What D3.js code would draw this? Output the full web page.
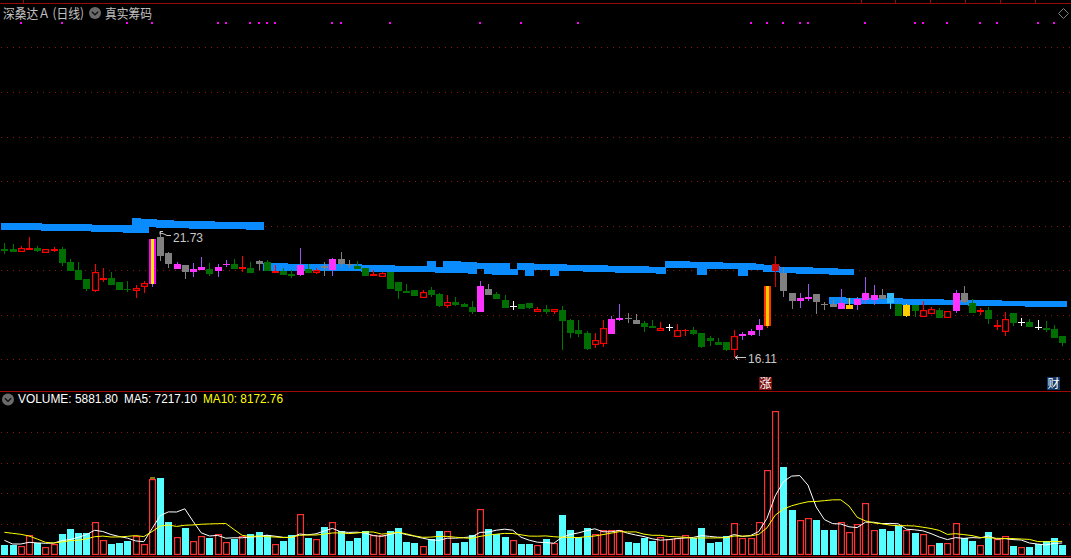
<!DOCTYPE html>
<html><head><meta charset="utf-8">
<style>
html,body{margin:0;padding:0;background:#000;overflow:hidden}
svg{display:block}
text{font-family:"Liberation Sans","DejaVu Sans",sans-serif}
</style>
<script src="https://cdn.jsdelivr.net/npm/d3@7/dist/d3.min.js"></script>
</head><body><svg id="c" width="1071" height="558"></svg>
<script>
// ---- data ----
const titleText = "深桑达Ａ (日线)";
const chipText = "真实筹码";
const highLabel = 21.73, lowLabel = 16.11;
const opens = [
20.97,20.97,20.84,20.93,21.02,20.79,20.88,20.97,20.39,20.03,
19.62,19.08,19.58,19.67,19.49,19.17,19.08,19.26,19.40,21.51,
20.79,20.30,20.25,20.07,20.16,20.07,20.16,20.30,20.30,20.07,
20.12,20.43,20.39,19.89,19.98,19.85,20.25,20.07,19.89,20.21,
20.52,20.52,20.30,20.21,20.12,19.76,19.71,19.94,19.49,19.08,
19.13,18.77,19.13,18.95,18.41,18.59,18.50,18.36,19.31,19.17,
18.95,18.68,18.41,18.50,18.54,18.14,18.27,18.14,18.23,17.78,
17.33,17.19,16.65,16.70,17.82,17.87,17.87,17.78,17.64,17.51,
17.28,17.46,17.01,17.28,17.33,17.19,16.97,16.79,16.79,16.43,
17.15,17.28,17.55,17.51,19.98,19.89,18.99,18.77,18.81,18.95,
18.50,18.50,18.54,18.45,18.72,18.99,18.90,18.90,18.99,18.50,
18.45,18.45,17.91,18.05,18.23,17.87,18.99,18.99,18.54,18.14,
18.23,17.46,17.24,18.09,17.69,17.69,17.46,17.42,17.37,17.06];
const closes = [
20.88,20.84,21.02,21.02,20.88,20.97,20.97,20.34,19.98,19.58,
19.17,19.94,19.67,19.35,19.13,19.13,19.22,19.44,21.42,20.66,
20.30,20.07,19.94,19.94,20.03,19.85,19.98,20.25,20.07,20.16,
19.89,20.30,19.98,19.98,19.80,19.76,19.80,19.89,20.03,20.12,
20.03,20.30,20.25,20.07,19.76,19.85,19.89,19.17,19.08,18.99,
18.86,19.04,18.90,18.41,18.59,18.45,18.36,18.14,18.14,18.90,
18.72,18.32,18.36,18.27,18.32,18.27,18.14,18.27,17.73,17.19,
17.15,16.47,16.88,17.42,17.15,17.78,17.82,17.60,17.46,17.42,
17.42,17.42,17.33,17.33,17.15,16.56,16.83,16.65,16.43,17.06,
17.06,17.10,17.33,19.31,20.30,19.08,18.63,18.63,18.72,18.59,
18.47,18.36,18.27,18.27,18.45,18.68,18.68,18.72,18.54,17.96,
17.96,18.18,18.23,18.27,17.87,18.18,18.18,18.59,18.09,18.23,
17.82,17.55,17.82,17.64,17.67,17.46,17.44,17.33,16.97,16.74];
const highs = [
21.24,21.20,21.11,21.51,21.11,20.97,21.06,21.06,20.52,20.39,
19.62,20.30,20.12,19.94,19.49,19.53,19.35,19.53,21.42,21.73,
20.84,20.39,20.25,20.34,20.61,20.34,20.30,20.48,20.52,20.66,
20.39,20.48,20.48,20.25,20.12,20.03,21.02,20.30,20.12,20.39,
20.57,20.84,20.48,20.43,20.12,20.03,19.94,19.94,19.49,19.40,
19.13,19.13,19.26,18.99,18.90,18.81,18.54,18.63,19.53,19.40,
19.04,18.90,18.63,18.50,18.54,18.36,18.45,18.27,18.41,17.82,
17.78,17.28,17.19,17.78,17.96,18.50,18.09,18.05,17.73,17.78,
17.69,17.60,17.60,17.37,17.46,17.19,17.06,16.97,16.79,17.33,
17.24,17.37,17.82,19.31,20.66,20.16,18.99,18.99,19.40,18.95,
18.59,18.68,19.17,18.77,18.81,19.71,19.35,19.17,18.99,18.50,
18.50,18.45,18.63,18.36,18.32,18.18,19.13,19.31,18.72,18.32,
18.36,17.78,18.14,18.09,17.87,17.82,17.78,17.73,17.55,17.06];
const lows = [
20.75,20.84,20.84,20.93,20.84,20.79,20.84,20.21,19.98,19.58,
19.08,19.04,19.49,19.35,19.13,19.04,18.77,18.99,19.26,20.43,
20.12,20.07,19.62,19.71,20.03,19.76,19.71,20.16,20.07,19.94,
19.89,20.03,19.98,19.89,19.80,19.67,19.76,19.89,19.85,19.76,
19.76,20.16,20.12,20.07,19.76,19.76,19.71,19.17,18.72,18.99,
18.86,18.77,18.81,18.36,18.32,18.41,18.36,18.05,18.14,18.90,
18.72,18.32,18.23,18.27,18.27,18.14,18.05,18.05,16.43,16.97,
17.01,16.43,16.52,16.56,17.15,17.73,17.64,17.60,17.24,17.42,
17.28,17.28,17.01,17.06,17.10,16.52,16.61,16.65,16.38,16.11,
16.88,17.06,17.06,17.42,19.26,18.81,18.27,18.32,18.63,18.05,
18.23,18.36,18.27,18.27,18.23,18.50,18.45,18.72,18.27,17.96,
17.91,17.91,17.91,18.05,17.87,17.87,18.09,18.54,18.09,18.00,
17.60,17.33,17.06,17.51,17.51,17.46,17.33,17.24,16.97,16.61];
const kinds = [
"g","g","r","R","g","r","R","g","g","g",
"g","r","R","g","g","g","r","r","my","k",
"k","m","k","m","m","g","m","m","g","R",
"g","k","g","R","g","g","m","g","r","k",
"m","k","k","g","g","R","r","g","g","g",
"g","r","g","g","r","g","g","g","m","k",
"g","g","w","g","g","r","g","r","g","g",
"g","g","r","r","m","m","k","k","g","g",
"r","w","r","R","g","g","g","g","g","r",
"m","m","m","ry","D","k","k","m","m","k",
"k","k","m","y","m","m","m","k","b","g",
"y","g","r","r","g","r","m","k","g","R",
"g","R","r","g","w","g","w","g","g","g"];
const bandATop = [
22.14,22.14,22.14,22.14,22.14,22.10,22.10,22.10,22.10,22.10,
22.10,22.05,22.05,22.05,22.05,22.05,22.37,22.32,22.32,22.28,
22.28,22.23,22.23,22.23,22.23,22.23,22.19,22.19,22.19,22.19,
22.19,22.19];
const bandABottom = [
21.83,21.83,21.83,21.83,21.83,21.78,21.78,21.78,21.78,21.78,
21.78,21.74,21.74,21.74,21.74,21.69,21.69,21.69,21.96,21.92,
21.92,21.92,21.92,21.87,21.87,21.87,21.87,21.87,21.87,21.87,
21.83,21.83];
const bandBTop = [
20.34,20.34,20.34,20.30,20.30,20.30,20.30,20.30,20.30,20.30,
20.30,20.30,20.25,20.25,20.25,20.25,20.21,20.21,20.21,20.21,
20.43,20.16,20.43,20.43,20.39,20.39,20.34,20.34,20.34,20.34,
20.07,20.34,20.34,20.30,20.30,20.30,20.30,20.25,20.25,20.25,
20.25,20.25,20.21,20.21,20.21,20.21,20.21,20.16,20.16,20.43,
20.43,20.43,20.39,20.39,20.39,20.39,20.34,20.34,20.34,20.34,
20.30,20.25,20.21,20.16,20.16,20.16,20.16,20.12,20.12,20.12,
20.07,20.07];
const bandBBottom = [
19.98,19.98,19.98,19.98,19.98,19.98,19.98,19.98,19.98,19.98,
19.98,19.98,19.94,19.94,19.94,19.94,19.94,19.94,19.94,19.94,
19.94,19.89,19.89,19.89,19.89,19.85,20.07,19.85,19.80,19.80,
19.80,20.03,19.76,20.03,20.03,19.76,19.98,19.98,19.98,19.94,
19.94,19.94,19.94,19.89,19.89,19.89,19.89,19.89,19.85,20.12,
20.12,20.12,20.12,19.80,20.07,20.07,20.07,20.07,19.76,20.03,
20.03,19.94,19.94,19.89,19.89,19.85,19.85,19.85,19.85,19.80,
19.80,19.80];
const bandCTop = [
18.81,18.81,18.77,18.77,18.77,18.77,18.77,18.77,18.77,18.72,
18.72,18.72,18.72,18.72,18.68,18.68,18.68,18.68,18.68,18.68,
18.68,18.63,18.63,18.63,18.63,18.63,18.63,18.63,18.63];
const bandCBottom = [
18.50,18.50,18.50,18.50,18.50,18.50,18.50,18.50,18.50,18.45,
18.45,18.45,18.45,18.45,18.45,18.45,18.45,18.41,18.41,18.41,
18.41,18.41,18.41,18.41,18.36,18.36,18.36,18.36,18.36];
const signalBars = [2,7,15,18,26,27,30,31,32,33,40,41,47,58,63,70,91,93,95,97,98,105,111,112,115,119,121,126,128];
const volumes = [
6000,6000,5400,11820,7020,4800,6600,12600,15600,13200,
13200,19620,9000,6600,7200,8400,11220,6600,45600,46200,
19800,10800,16200,8400,11400,10200,12600,7800,9600,11400,
12600,13800,12000,6600,8220,11820,24420,10020,9420,16620,
19620,14220,8220,10020,14220,11820,11820,14220,16020,7620,
7020,5580,9420,14220,14220,7020,7620,11820,27420,15420,
12420,10620,8820,6420,6420,6000,9600,7020,24000,15000,
10800,16200,12600,15000,15000,15000,7800,7200,10200,8400,
10800,9600,10200,12000,10200,16200,7200,7800,11400,19020,
10200,10200,19620,51000,86400,52800,27000,21000,22200,21000,
15000,15000,19800,13800,18600,31200,15000,15600,14400,17400,
15000,13200,12600,6000,7200,7200,19200,10200,8400,6000,
13800,9600,11400,5400,4800,4800,6600,8400,10200,5881.8];
const volumeUpBars = [2,3,5,6,11,12,16,17,18,21,23,24,26,27,29,33,36,38,40,45,46,51,54,58,62,65,67,72,73,74,75,80,81,82,83,89,90,91,92,93,94,97,98,102,103,104,105,106,110,112,113,115,116,119,121,122,124];
const ma5 = [
8820,6600,6600,7620,7260,7020,7140,8580,9300,10560,
12240,14820,14100,12300,11100,10140,8460,7980,15780,23580,
25860,25800,27720,20280,13320,11400,11760,10080,10320,10320,
10800,11040,11880,11280,10620,10500,12600,12120,12720,14400,
15960,13920,13560,13680,13200,11640,11160,12360,13560,12240,
11280,10080,9120,8760,10080,10080,10440,10920,13560,13800,
14880,15480,14880,10680,8880,7680,7440,7080,10620,12300,
13260,14580,15720,13920,13920,14760,13080,12000,11040,9720,
8880,9240,9840,10200,10560,11640,11160,10680,10560,12300,
11100,11700,14100,22020,35460,43980,47340,47640,41880,28800,
21240,18840,18600,16920,16440,19680,19680,18840,18960,18720,
15480,15120,14520,12840,10800,9240,10440,9960,10440,10200,
11520,9600,9840,9240,9000,7200,6600,6000,6960,7217.1];
const ma10 = [
13620,13020,12420,11400,9600,7620,7200,7800,8580,8910,
9630,10980,11340,10800,10830,11190,11640,11040,14040,17340,
18000,17130,17850,18030,18450,18630,18780,18900,15300,11820,
11100,11400,10980,10800,10470,10650,11820,12000,12000,12510,
13230,13260,12840,13200,13800,13800,12540,12960,13620,12720,
11460,10620,10740,11160,11160,10680,10260,10020,11160,11940,
12480,12960,12900,12120,11340,11280,11460,10980,10650,10590,
10470,11010,11400,12270,13110,14010,13830,13860,12480,11820,
11820,11160,10920,10620,10140,10260,10200,10260,10380,11400,
11370,11430,12390,16290,23880,27540,29520,30870,31950,32130,
32610,33090,33120,29400,22620,20460,19260,18720,17940,17580,
17580,17400,16680,15900,14760,12360,12780,12240,11640,10500,
10380,10020,9900,9840,9600,9360,8100,7920,8100,8172.76];
const volumeLabel = "5881.80", ma5Label = "7217.10", ma10Label = "8172.76";

// ---- layout ----
const W = 1071, H = 558;
const svg = d3.select("#c");
svg.append("rect").attr("width",W).attr("height",H).attr("fill","#000");
const x = d3.scaleLinear().domain([0,opens.length-1]).range([4.4,1062.2]);
const px = i => Math.round(x(i));
const yP = d3.scaleLinear().domain([lowLabel,highLabel]).range([357,232]);
const yV = d3.scaleLinear().domain([0,86400]).range([555,411]);
const gridP = [47,92,137,181,226,270,315,359];
const gridV = [432.5,463.5,493.5,524.5];
const topTickX = [23,861,895,930,965,1000,1035];
const crisp = s => s.attr("shape-rendering","crispEdges");

// grids
const g0 = crisp(svg.append("g"));
g0.selectAll("line.g").data(gridP.concat(gridV)).join("line")
  .attr("x1",1).attr("x2",W).attr("y1",d=>Math.floor(d)+0.5).attr("y2",d=>Math.floor(d)+0.5)
  .attr("stroke","#8a1515").attr("stroke-width",1).attr("stroke-dasharray","1 5");
// frame lines
[[3.5,"#960a0a"],[391.5,"#a00808"],[556.5,"#a00808"]].forEach(([y,c])=>{
  g0.append("line").attr("x1",0).attr("x2",W).attr("y1",y).attr("y2",y).attr("stroke",c);
});
g0.selectAll("line.t").data(topTickX).join("line").attr("class","t")
  .attr("x1",d=>d+0.5).attr("x2",d=>d+0.5).attr("y1",0).attr("y2",3).attr("stroke","#960a0a");

// signal dots
crisp(svg.append("g")).selectAll("rect").data(signalBars).join("rect")
  .attr("x",d=>px(d)-1).attr("y",22).attr("width",2).attr("height",2).attr("fill","#ff00ff");

// blue chip bands
function band(start,tops,bottoms){
  crisp(svg.append("g")).selectAll("rect").data(tops).join("rect")
   .attr("x",(d,k)=>Math.max(1,Math.round(x(start+k)-4.1)))
   .attr("width",(d,k)=>Math.round(x(start+k)+4.1)-Math.max(1,Math.round(x(start+k)-4.1))+1)
   .attr("y",d=>Math.round(yP(d)))
   .attr("height",(d,k)=>Math.round(yP(bottoms[k]))-Math.round(yP(d)))
   .attr("fill","#0a8cff");
}
band(0,bandATop,bandABottom);
band(32,bandBTop,bandBBottom);
band(101,bandCTop,bandCBottom);

// candles
const pal = {
 g:{b:"#006e00",w:"#007800"}, r:{b:"#000",w:"#ff0000",s:"#ff0000"}, R:{b:"#ff0000",w:"#ff0000"},
 D:{b:"#d00a0a",w:"#e00000"}, m:{b:"#ff33ff",w:"#9955ee"}, k:{b:"#808080",w:"#808080"},
 w:{b:"#ffffff",w:"#ffffff"}, y:{b:"#ffcc00",w:"#ffcc00"}, b:{b:"#33bbff",w:"#33ccff"},
 my:{b:"#ff00ff",w:"#9955ee",c:"#ffee00"}, ry:{b:"#ff3300",w:"#ff2200",c:"#ffcc00"}
};
const gc = crisp(svg.append("g"));
const idx = d3.range(opens.length);
gc.selectAll("line").data(idx).join("line")
  .attr("x1",i=>px(i)+0.5).attr("x2",i=>px(i)+0.5)
  .attr("y1",i=>Math.round(yP(highs[i]))).attr("y2",i=>Math.round(yP(lows[i])))
  .attr("stroke",i=>pal[kinds[i]].w);
const bodyTop = i=>Math.round(yP(Math.max(opens[i],closes[i])));
const bodyH = i=>Math.max(1,Math.round(yP(Math.min(opens[i],closes[i])))-bodyTop(i));
const solid = idx.filter(i=>kinds[i]!=="r"), hollow = idx.filter(i=>kinds[i]==="r");
gc.selectAll("rect.b").data(solid).join("rect").attr("class","b")
  .attr("x",i=>px(i)-3).attr("y",bodyTop).attr("width",7).attr("height",bodyH)
  .attr("fill",i=>pal[kinds[i]].b);
svg.append("g").selectAll("rect").data(hollow).join("rect")
  .attr("x",i=>px(i)-2.4).attr("y",i=>bodyTop(i)+0.6).attr("width",5.8).attr("height",i=>Math.max(1,bodyH(i)-1.2))
  .attr("fill","#000").attr("stroke","#ff0000").attr("stroke-width",1.2);
gc.selectAll("rect.c").data(idx.filter(i=>pal[kinds[i]].c)).join("rect").attr("class","c")
  .attr("x",i=>px(i)-1).attr("y",bodyTop).attr("width",3).attr("height",bodyH)
  .attr("fill",i=>pal[kinds[i]].c);

// volume bars
const upSet = new Set(volumeUpBars);
const gv = svg.append("g");
crisp(gv.append("g")).selectAll("rect").data(idx.filter(i=>!upSet.has(i))).join("rect")
  .attr("x",i=>px(i)-3).attr("y",i=>Math.round(yV(volumes[i])))
  .attr("width",7).attr("height",i=>555-Math.round(yV(volumes[i])))
  .attr("fill","#55ffff");
gv.append("g").selectAll("rect").data(volumeUpBars).join("rect")
  .attr("x",i=>px(i)-2.4).attr("y",i=>Math.round(yV(volumes[i]))+0.6)
  .attr("width",5.8).attr("height",i=>555-Math.round(yV(volumes[i]))-1.2)
  .attr("fill","#000").attr("stroke","#ff3232").attr("stroke-width",1.2);
crisp(gv.append("rect")).attr("x",px(18)-2).attr("y",Math.round(yV(volumes[18]))-2).attr("width",5).attr("height",2).attr("fill","#807a10");

// moving average lines
const ln = d3.line().x((d,i)=>x(i)).y(d=>yV(d));
svg.append("path").attr("d",ln(ma5)).attr("fill","none").attr("stroke","#ffffff").attr("stroke-width",1);
svg.append("path").attr("d",ln(ma10)).attr("fill","none").attr("stroke","#ffff00").attr("stroke-width",1);

// title row
const cjk = '"Noto Sans CJK SC",sans-serif';
const txt = (t,xx,yy,fs,fill,fam,tl)=>{
  const e = svg.append("text").attr("x",xx).attr("y",yy).attr("font-size",fs).attr("fill",fill).text(t);
  if(fam) e.style("font-family",fam);
  if(tl) e.attr("textLength",tl).attr("lengthAdjust","spacingAndGlyphs");
  return e;
};
txt(titleText,3,18,13,"#c0c0c0",cjk,81);
txt(chipText,105,18,13,"#c0c0c0",cjk,47);
function chevron(cx,cy,r){
  svg.append("circle").attr("cx",cx).attr("cy",cy).attr("r",r).attr("fill","#6a6a6a");
  svg.append("path").attr("d",`M${cx-3.2},${cy-1.2}L${cx},${cy+1.8}L${cx+3.2},${cy-1.2}`)
    .attr("fill","none").attr("stroke","#111").attr("stroke-width",1.3);
}
chevron(95,13,6);
chevron(8,399.5,6);
svg.append("path").attr("d","M1063.5,8.5L1068.5,13.5L1063.5,18.5L1058.5,13.5Z")
  .attr("fill","none").attr("stroke","#808080");

// legend
txt("VOLUME: "+volumeLabel,18,403,12,"#ffffff",null,100);
txt("MA5: "+ma5Label,124,403,12,"#ffffff",null,73);
txt("MA10: "+ma10Label,203,403,12,"#ffff00",null,80);

// extreme labels
const lab = "#c8c8c8";
txt(highLabel.toFixed(2),173,242,12,lab,null,30);
svg.append("path").attr("d","M160,231.5h3M160,231.5v3M160,233l4,1l3,1.5h4").attr("fill","none").attr("stroke",lab).attr("stroke-width",1);
txt(lowLabel.toFixed(2),748,363,12,lab,null,29);
svg.append("path").attr("d","M746,357.5H735M735,357.5l3,-2M735,357.5l3,2").attr("fill","none").attr("stroke",lab).attr("stroke-width",1);

// event tags
function tag(t,xx,c){
  crisp(svg.append("rect")).attr("x",xx).attr("y",377).attr("width",13).attr("height",13).attr("fill",c);
  txt(t,xx+0.5,388,12,"#ffffff",cjk);
}
tag("涨",759,"#7a1010");
tag("财",1047,"#103868");
</script></body></html>
